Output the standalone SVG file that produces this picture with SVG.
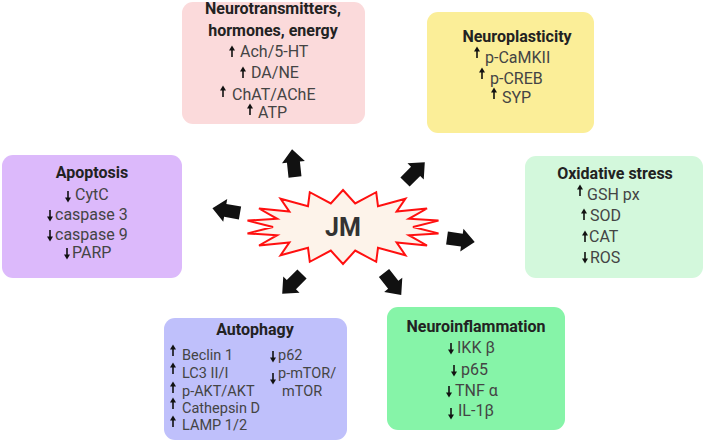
<svg xmlns="http://www.w3.org/2000/svg" xmlns:xlink="http://www.w3.org/1999/xlink" width="706" height="444" viewBox="0 0 706 444">
<style>
.t{font-family:Roboto,"Liberation Sans",sans-serif;font-weight:700;font-size:16px;fill:#222;text-anchor:middle}
.i{font-family:Roboto,"Liberation Sans",sans-serif;font-size:16px;fill:#444}
.s{font-size:14.5px}
.box{stroke:none}
.big{fill:#111}
</style>
<defs>
<g id="au"><path d="M0,0 V-8" stroke="#111" stroke-width="1.6" fill="none"/><path d="M-3,-6.5 L0,-11.5 L3,-6.5 Z" fill="#111"/></g>
<g id="ad"><path d="M0,0 V8" stroke="#111" stroke-width="1.6" fill="none"/><path d="M-3,6.5 L0,11.5 L3,6.5 Z" fill="#111"/></g>
<polygon id="ba" points="0,-6.5 15,-6.5 15,-11.5 28,0 15,11.5 15,6.5 0,6.5"/>
</defs>
<rect width="706" height="444" fill="#fff"/>

<g id="connectors" class="big">
<use xlink:href="#ba" transform="translate(295,177) rotate(-96)"/>
<use xlink:href="#ba" transform="translate(405,182) rotate(-45)"/>
<use xlink:href="#ba" transform="translate(240,213) rotate(190)"/>
<use xlink:href="#ba" transform="translate(447,238) rotate(8)"/>
<use xlink:href="#ba" transform="translate(302,274) rotate(135)"/>
<use xlink:href="#ba" transform="translate(384,273) rotate(52)"/>
</g>

<g id="jm">
<polygon points="343,190 355.2,203.4 376.2,192.2 378,206.2 405.4,198.7 396.6,211.6 427,208.5 408.8,218.8 438.5,220.6 413,227 438.5,233.4 408.8,235.2 427,245.5 396.6,242.4 405.4,255.3 378,247.8 376.2,261.8 355.2,250.6 343,264 330.8,250.6 309.8,261.8 308,247.8 280.6,255.3 289.4,242.4 259,245.5 277.2,235.2 247.5,233.4 273,227 247.5,220.6 277.2,218.8 259,208.5 289.4,211.6 280.6,198.7 308,206.2 309.8,192.2 330.8,203.4" fill="#fdf3ea" stroke="#ff1010" stroke-width="2" stroke-linejoin="miter"/>
<text x="343" y="236" class="t" style="font-size:25px;fill:#333">JM</text>
</g>

<g id="neurotransmitters">
<rect class="box" x="182" y="2" width="183" height="122" rx="11" fill="#fbdadb"/>
<text x="273" y="14" class="t">Neurotransmitters,</text>
<text x="273" y="36" class="t">hormones, energy</text>
<use xlink:href="#au" x="232" y="57"/><text x="240" y="57" class="i">Ach/5-HT</text>
<use xlink:href="#au" x="243" y="78"/><text x="251" y="78" class="i">DA/NE</text>
<use xlink:href="#au" x="223" y="97"/><text x="232" y="100" class="i">ChAT/AChE</text>
<use xlink:href="#au" x="250" y="115"/><text x="258" y="118" class="i">ATP</text>
</g>

<g id="neuroplasticity">
<rect class="box" x="427" y="12" width="167" height="121" rx="11" fill="#fbee98"/>
<text x="517" y="42" class="t">Neuroplasticity</text>
<use xlink:href="#au" x="477" y="58"/><text x="485" y="63" class="i">p-CaMKII</text>
<use xlink:href="#au" x="482" y="79"/><text x="490" y="84" class="i">p-CREB</text>
<use xlink:href="#au" x="494" y="99"/><text x="502" y="103" class="i">SYP</text>
</g>

<g id="apoptosis">
<rect class="box" x="2" y="155" width="180" height="123" rx="11" fill="#dcb9fb"/>
<text x="92" y="178" class="t">Apoptosis</text>
<use xlink:href="#ad" x="68" y="191"/><text x="75" y="200" class="i">CytC</text>
<use xlink:href="#ad" x="50" y="210"/><text x="55" y="220" class="i">caspase 3</text>
<use xlink:href="#ad" x="50" y="230"/><text x="55" y="240" class="i">caspase 9</text>
<use xlink:href="#ad" x="67" y="248"/><text x="72" y="258" class="i">PARP</text>
</g>

<g id="oxidative">
<rect class="box" x="525" y="156" width="178" height="122" rx="11" fill="#d3f8dc"/>
<text x="615" y="179" class="t">Oxidative stress</text>
<use xlink:href="#au" x="580" y="196"/><text x="587" y="200" class="i">GSH px</text>
<use xlink:href="#au" x="584" y="220"/><text x="590" y="221" class="i">SOD</text>
<use xlink:href="#au" x="585" y="242"/><text x="589" y="242" class="i">CAT</text>
<use xlink:href="#ad" x="585" y="252"/><text x="590" y="263" class="i">ROS</text>
</g>

<g id="autophagy">
<rect class="box" x="164" y="318" width="183" height="122" rx="11" fill="#bfc0fb"/>
<text x="255" y="335" class="t">Autophagy</text>
<use xlink:href="#au" x="173" y="356"/><text x="182" y="360" class="i s">Beclin 1</text>
<use xlink:href="#au" x="173" y="374"/><text x="182" y="378" class="i s">LC3 II/I</text>
<use xlink:href="#au" x="173" y="393"/><text x="182" y="396" class="i s">p-AKT/AKT</text>
<use xlink:href="#au" x="173" y="409"/><text x="182" y="413" class="i s">Cathepsin D</text>
<use xlink:href="#au" x="173" y="427"/><text x="182" y="430" class="i s">LAMP 1/2</text>
<use xlink:href="#ad" x="273" y="351"/><text x="278" y="360" class="i s">p62</text>
<use xlink:href="#ad" x="273" y="373"/><text x="278" y="378" class="i s">p-mTOR/</text>
<text x="282" y="396" class="i s">mTOR</text>
</g>

<g id="neuroinflammation">
<rect class="box" x="387" y="307" width="178" height="123" rx="11" fill="#86f4a8"/>
<text x="476" y="332" class="t">Neuroinflammation</text>
<use xlink:href="#ad" x="451" y="343"/><text x="457" y="353" class="i">IKK β</text>
<use xlink:href="#ad" x="454" y="365"/><text x="461" y="375" class="i">p65</text>
<use xlink:href="#ad" x="449" y="386"/><text x="455" y="396" class="i">TNF α</text>
<use xlink:href="#ad" x="451" y="408"/><text x="458" y="416" class="i">IL-1β</text>
</g>
</svg>
